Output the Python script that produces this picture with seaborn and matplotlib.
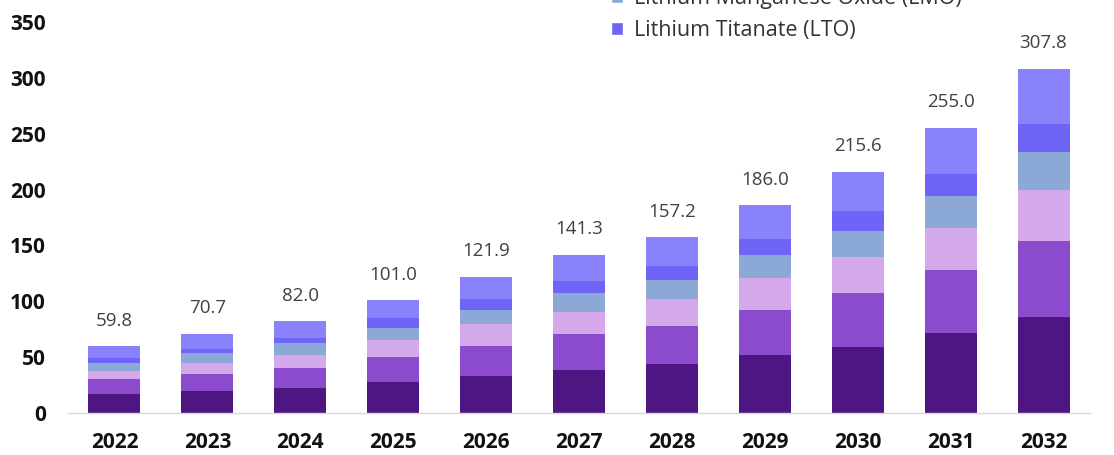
import matplotlib
matplotlib.use("Agg")
import matplotlib.pyplot as plt
from matplotlib.patches import Patch
import numpy as np
import pandas as pd
import seaborn as sns

years = ["2022", "2023", "2024", "2025", "2026", "2027", "2028", "2029", "2030", "2031", "2032"]

# Market size by chemistry (USD billion), stacked bottom to top
lco = [16.7, 19.7, 22.1, 28.0, 33.4, 38.5, 43.6, 51.5, 59.4, 71.4, 85.7]
lfp = [13.5, 14.9, 18.5, 21.9, 26.9, 32.0, 34.6, 41.0, 47.8, 56.6, 68.3]
nca = [7.7, 10.4, 11.3, 15.5, 19.4, 20.2, 23.9, 28.4, 32.2, 37.9, 45.6]
lmo = [7.1, 8.4, 10.5, 11.0, 12.5, 16.5, 17.0, 20.3, 23.8, 28.6, 34.3]
lto = [4.0, 4.3, 5.0, 8.4, 9.6, 11.0, 12.5, 14.3, 17.9, 19.3, 24.8]
nmc = [10.8, 13.0, 14.6, 16.2, 20.1, 23.1, 25.6, 30.5, 34.5, 41.2, 49.1]

totals = [59.8, 70.7, 82.0, 101.0, 121.9, 141.3, 157.2, 186.0, 215.6, 255.0, 307.8]

series = [
    ("Lithium Cobalt Oxide (LCO)", lco, "#4E1682"),
    ("Lithium Iron Phosphate (LFP)", lfp, "#8C4BCD"),
    ("Lithium Nickel Cobalt Aluminum Oxide (NCA)", nca, "#D5A8EB"),
    ("Lithium Manganese Oxide (LMO)", lmo, "#8CA8D7"),
    ("Lithium Titanate (LTO)", lto, "#6E64F5"),
    ("Lithium Nickel Manganese Cobalt (NMC)", nmc, "#8982FA"),
]

sns.set_theme(style="white")
plt.rcParams["font.family"] = ["Open Sans", "DejaVu Sans"]

fig = plt.figure(figsize=(11.14, 4.55), dpi=100)
ax = fig.add_axes([68 / 1114, 42 / 455, 1022 / 1114, (413 - 22) / 455])

# Cumulative heights, drawn from the top layer down so each layer covers the one above it
cum = np.cumsum(np.array([s[1] for s in series]), axis=0)
for i in range(len(series) - 1, -1, -1):
    df = pd.DataFrame({"year": years, "value": cum[i]})
    sns.barplot(data=df, x="year", y="value", order=years, color=series[i][2],
                saturation=1, width=0.56, ax=ax, linewidth=0)

for xi, t in enumerate(totals):
    ax.annotate(f"{t:.1f}", xy=(xi, t), xytext=(0, 12), textcoords="offset points",
                ha="center", va="bottom", fontsize=13.5, color="#404040",
                annotation_clip=False)

ax.set_xlim(-0.5, len(years) - 0.5)
ax.set_ylim(0, 350)
ax.set_yticks(np.arange(0, 351, 50))
ax.set_xlabel("")
ax.set_ylabel("")
ax.tick_params(axis="y", length=0, pad=16, labelsize=15, labelcolor="#111111")
ax.tick_params(axis="x", length=0, pad=14, labelsize=15, labelcolor="#111111")
for lab in ax.get_xticklabels() + ax.get_yticklabels():
    lab.set_fontweight("bold")

for side in ["top", "right", "left"]:
    ax.spines[side].set_visible(False)
ax.spines["bottom"].set_color("#d9d9d9")
ax.spines["bottom"].set_linewidth(1.0)

handles = [Patch(facecolor=series[3][2], label=series[3][0]),
           Patch(facecolor=series[4][2], label=series[4][0])]
fig.legend(handles=handles, loc="lower left", bbox_to_anchor=(600 / 1114, 1 - 52 / 455),
           frameon=False, fontsize=15.5, handlelength=0.55, handleheight=0.55,
           handletextpad=0.55, labelspacing=0.5, borderpad=0, labelcolor="#333333")

fig.savefig("out.png", dpi=100, facecolor="white")
